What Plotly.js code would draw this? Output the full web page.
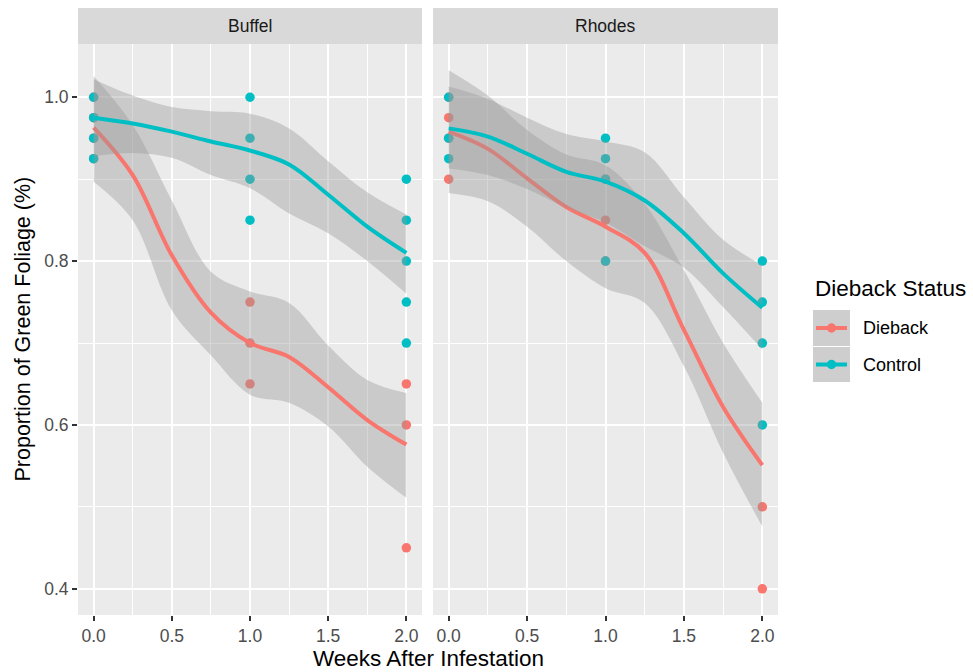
<!DOCTYPE html>
<html>
<head>
<meta charset="utf-8">
<script src="https://cdn.plot.ly/plotly-3.0.1.min.js"></script>
<style>html,body{margin:0;padding:0;background:#fff;}#chart{width:973px;height:672px;}</style>
</head>
<body>
<div id="chart"></div>
<script>
// ---------------- data ----------------
const panels = ["Buffel", "Rhodes"];
const groups = ["Dieback", "Control"];
const groupColors = ["#F8766D", "#00BFC4"];

// observed points
const buffelDiebackWeeks = [0, 0, 0, 0, 1, 1, 1, 2, 2, 2];
const buffelDiebackGreen = [1.0, 0.975, 0.95, 0.925, 0.75, 0.70, 0.65, 0.65, 0.60, 0.45];
const buffelControlWeeks = [0, 0, 0, 0, 1, 1, 1, 1, 2, 2, 2, 2, 2];
const buffelControlGreen = [1.0, 0.975, 0.95, 0.925, 1.0, 0.95, 0.90, 0.85, 0.90, 0.85, 0.80, 0.75, 0.70];
const rhodesDiebackWeeks = [0, 0, 0, 0, 1, 1, 1, 2, 2];
const rhodesDiebackGreen = [1.0, 0.975, 0.95, 0.90, 0.90, 0.85, 0.80, 0.50, 0.40];
const rhodesControlWeeks = [0, 0, 0, 1, 1, 1, 1, 2, 2, 2, 2];
const rhodesControlGreen = [1.0, 0.95, 0.925, 0.95, 0.925, 0.90, 0.80, 0.80, 0.75, 0.70, 0.60];

// smoothed fits and their confidence bands
const fitWeeks = [0, 0.25, 0.5, 0.75, 1, 1.25, 1.5, 1.75, 2];
const buffelDiebackFit   = [0.963, 0.905, 0.807, 0.737, 0.700, 0.683, 0.646, 0.606, 0.576];
const buffelDiebackUpper = [1.026, 0.966, 0.874, 0.787, 0.763, 0.749, 0.697, 0.655, 0.639];
const buffelDiebackLower = [0.897, 0.850, 0.740, 0.685, 0.637, 0.627, 0.598, 0.549, 0.511];
const buffelControlFit   = [0.975, 0.968, 0.958, 0.946, 0.935, 0.918, 0.881, 0.842, 0.810];
const buffelControlUpper = [1.022, 1.002, 0.988, 0.983, 0.980, 0.962, 0.922, 0.884, 0.857];
const buffelControlLower = [0.928, 0.932, 0.926, 0.905, 0.889, 0.858, 0.834, 0.800, 0.760];
const rhodesDiebackFit   = [0.958, 0.937, 0.901, 0.866, 0.842, 0.810, 0.716, 0.622, 0.551];
const rhodesDiebackUpper = [1.033, 1.002, 0.960, 0.930, 0.917, 0.870, 0.789, 0.700, 0.627];
const rhodesDiebackLower = [0.883, 0.873, 0.842, 0.800, 0.767, 0.749, 0.672, 0.566, 0.476];
const rhodesControlFit   = [0.962, 0.952, 0.931, 0.909, 0.897, 0.874, 0.834, 0.785, 0.743];
const rhodesControlUpper = [1.013, 0.998, 0.975, 0.955, 0.946, 0.933, 0.878, 0.826, 0.795];
const rhodesControlLower = [0.913, 0.905, 0.888, 0.865, 0.847, 0.818, 0.792, 0.744, 0.692];

const xTickVals = [0, 0.5, 1, 1.5, 2];
const xTickText = ["0.0", "0.5", "1.0", "1.5", "2.0"];
const yTickVals = [0.4, 0.6, 0.8, 1.0];
const yTickText = ["0.4", "0.6", "0.8", "1.0"];

// ---------------- build ----------------
const W = 973, H = 672;
const px = v => v / W;
const py = v => 1 - v / H;
const FONT = "Liberation Sans, Arial, Helvetica, sans-serif";
const RIBBON = "rgba(153,153,153,0.4)";

const panelData = [
  { xa: "x",  pts: [[buffelDiebackWeeks, buffelDiebackGreen], [buffelControlWeeks, buffelControlGreen]],
    fit: [[buffelDiebackFit, buffelDiebackUpper, buffelDiebackLower], [buffelControlFit, buffelControlUpper, buffelControlLower]] },
  { xa: "x2", pts: [[rhodesDiebackWeeks, rhodesDiebackGreen], [rhodesControlWeeks, rhodesControlGreen]],
    fit: [[rhodesDiebackFit, rhodesDiebackUpper, rhodesDiebackLower], [rhodesControlFit, rhodesControlUpper, rhodesControlLower]] }
];

const traces = [];
panelData.forEach(p => {
  p.pts.forEach((pt, g) => {
    traces.push({ type: "scatter", mode: "markers", x: pt[0], y: pt[1], xaxis: p.xa, yaxis: "y",
      marker: { color: groupColors[g], size: 9.5, line: { width: 0 } }, showlegend: false, hoverinfo: "skip" });
  });
  p.fit.forEach((f, g) => {
    traces.push({ type: "scatter", mode: "lines", x: fitWeeks, y: f[2], xaxis: p.xa, yaxis: "y",
      line: { width: 0, shape: "spline", color: "rgba(0,0,0,0)" }, showlegend: false, hoverinfo: "skip" });
    traces.push({ type: "scatter", mode: "lines", x: fitWeeks, y: f[1], xaxis: p.xa, yaxis: "y",
      fill: "tonexty", fillcolor: RIBBON,
      line: { width: 0, shape: "spline", color: "rgba(0,0,0,0)" }, showlegend: false, hoverinfo: "skip" });
    traces.push({ type: "scatter", mode: "lines", x: fitWeeks, y: f[0], xaxis: p.xa, yaxis: "y",
      line: { width: 4, shape: "spline", color: groupColors[g] }, showlegend: false, hoverinfo: "skip" });
  });
});

const xAxisBase = {
  range: [-0.1, 2.1], tickvals: xTickVals, ticktext: xTickText,
  showgrid: true, gridcolor: "#FFFFFF", gridwidth: 2,
  minor: { tickvals: [0.25, 0.75, 1.25, 1.75], showgrid: true, gridcolor: "#FFFFFF", gridwidth: 1, ticks: "" },
  ticks: "outside", ticklen: 5, tickwidth: 2, tickcolor: "#333333",
  tickfont: { family: FONT, size: 17.5, color: "#4D4D4D" },
  zeroline: false, showline: false, anchor: "y", fixedrange: true
};

const layout = {
  width: W, height: H,
  margin: { l: 0, r: 0, t: 0, b: 0 },
  paper_bgcolor: "#FFFFFF", plot_bgcolor: "#EBEBEB",
  showlegend: false,
  font: { family: FONT },
  xaxis: Object.assign({}, xAxisBase, { domain: [px(78), px(422)] }),
  xaxis2: Object.assign({}, xAxisBase, { domain: [px(433), px(778)] }),
  yaxis: {
    domain: [1 - 615 / H, 1 - 44 / H], range: [0.368, 1.065],
    tickvals: yTickVals, ticktext: yTickText,
    showgrid: true, gridcolor: "#FFFFFF", gridwidth: 2,
    minor: { tickvals: [0.5, 0.7, 0.9], showgrid: true, gridcolor: "#FFFFFF", gridwidth: 1, ticks: "" },
    ticks: "outside", ticklen: 5, tickwidth: 2, tickcolor: "#333333",
    tickfont: { family: FONT, size: 17.5, color: "#4D4D4D" },
    zeroline: false, showline: false, anchor: "x", fixedrange: true
  },
  shapes: [
    { type: "rect", xref: "paper", yref: "paper", x0: px(78), x1: px(422), y0: py(44), y1: py(8), fillcolor: "#D9D9D9", line: { width: 0 } },
    { type: "rect", xref: "paper", yref: "paper", x0: px(433), x1: px(778), y0: py(44), y1: py(8), fillcolor: "#D9D9D9", line: { width: 0 } },
    // legend keys
    { type: "rect", xref: "paper", yref: "paper", x0: px(813), x1: px(850), y0: py(346), y1: py(310), fillcolor: "#CECECE", line: { width: 0 } },
    { type: "rect", xref: "paper", yref: "paper", x0: px(813), x1: px(850), y0: py(382), y1: py(347), fillcolor: "#CECECE", line: { width: 0 } },
    { type: "line", xref: "paper", yref: "paper", x0: px(816), x1: px(847), y0: py(328), y1: py(328), line: { color: groupColors[0], width: 4 } },
    { type: "line", xref: "paper", yref: "paper", x0: px(816), x1: px(847), y0: py(364.5), y1: py(364.5), line: { color: groupColors[1], width: 4 } },
    { type: "circle", xref: "paper", yref: "paper", x0: px(826.8), x1: px(836.2), y0: py(332.7), y1: py(323.3), fillcolor: groupColors[0], line: { width: 0 } },
    { type: "circle", xref: "paper", yref: "paper", x0: px(826.8), x1: px(836.2), y0: py(369.2), y1: py(359.8), fillcolor: groupColors[1], line: { width: 0 } }
  ],
  annotations: [
    { text: panels[0], xref: "paper", yref: "paper", x: px(250), y: py(26), xanchor: "center", yanchor: "middle", showarrow: false, font: { family: FONT, size: 17.5, color: "#1A1A1A" } },
    { text: panels[1], xref: "paper", yref: "paper", x: px(605.5), y: py(26), xanchor: "center", yanchor: "middle", showarrow: false, font: { family: FONT, size: 17.5, color: "#1A1A1A" } },
    { text: "Weeks After Infestation", xref: "paper", yref: "paper", x: px(428), y: py(658), xanchor: "center", yanchor: "middle", showarrow: false, font: { family: FONT, size: 22.5, color: "#000000" } },
    { text: "Proportion of Green Foliage (%)", xref: "paper", yref: "paper", x: px(22), y: py(329.5), xanchor: "center", yanchor: "middle", textangle: -90, showarrow: false, font: { family: FONT, size: 21.5, color: "#000000" } },
    { text: "Dieback Status", xref: "paper", yref: "paper", x: px(813), y: py(288), xanchor: "left", yanchor: "middle", showarrow: false, font: { family: FONT, size: 22.5, color: "#000000" } },
    { text: groups[0], xref: "paper", yref: "paper", x: px(861), y: py(328), xanchor: "left", yanchor: "middle", showarrow: false, font: { family: FONT, size: 18, color: "#000000" } },
    { text: groups[1], xref: "paper", yref: "paper", x: px(861), y: py(365), xanchor: "left", yanchor: "middle", showarrow: false, font: { family: FONT, size: 18, color: "#000000" } }
  ]
};

Plotly.newPlot("chart", traces, layout, { staticPlot: true, displayModeBar: false });
</script>
</body>
</html>
